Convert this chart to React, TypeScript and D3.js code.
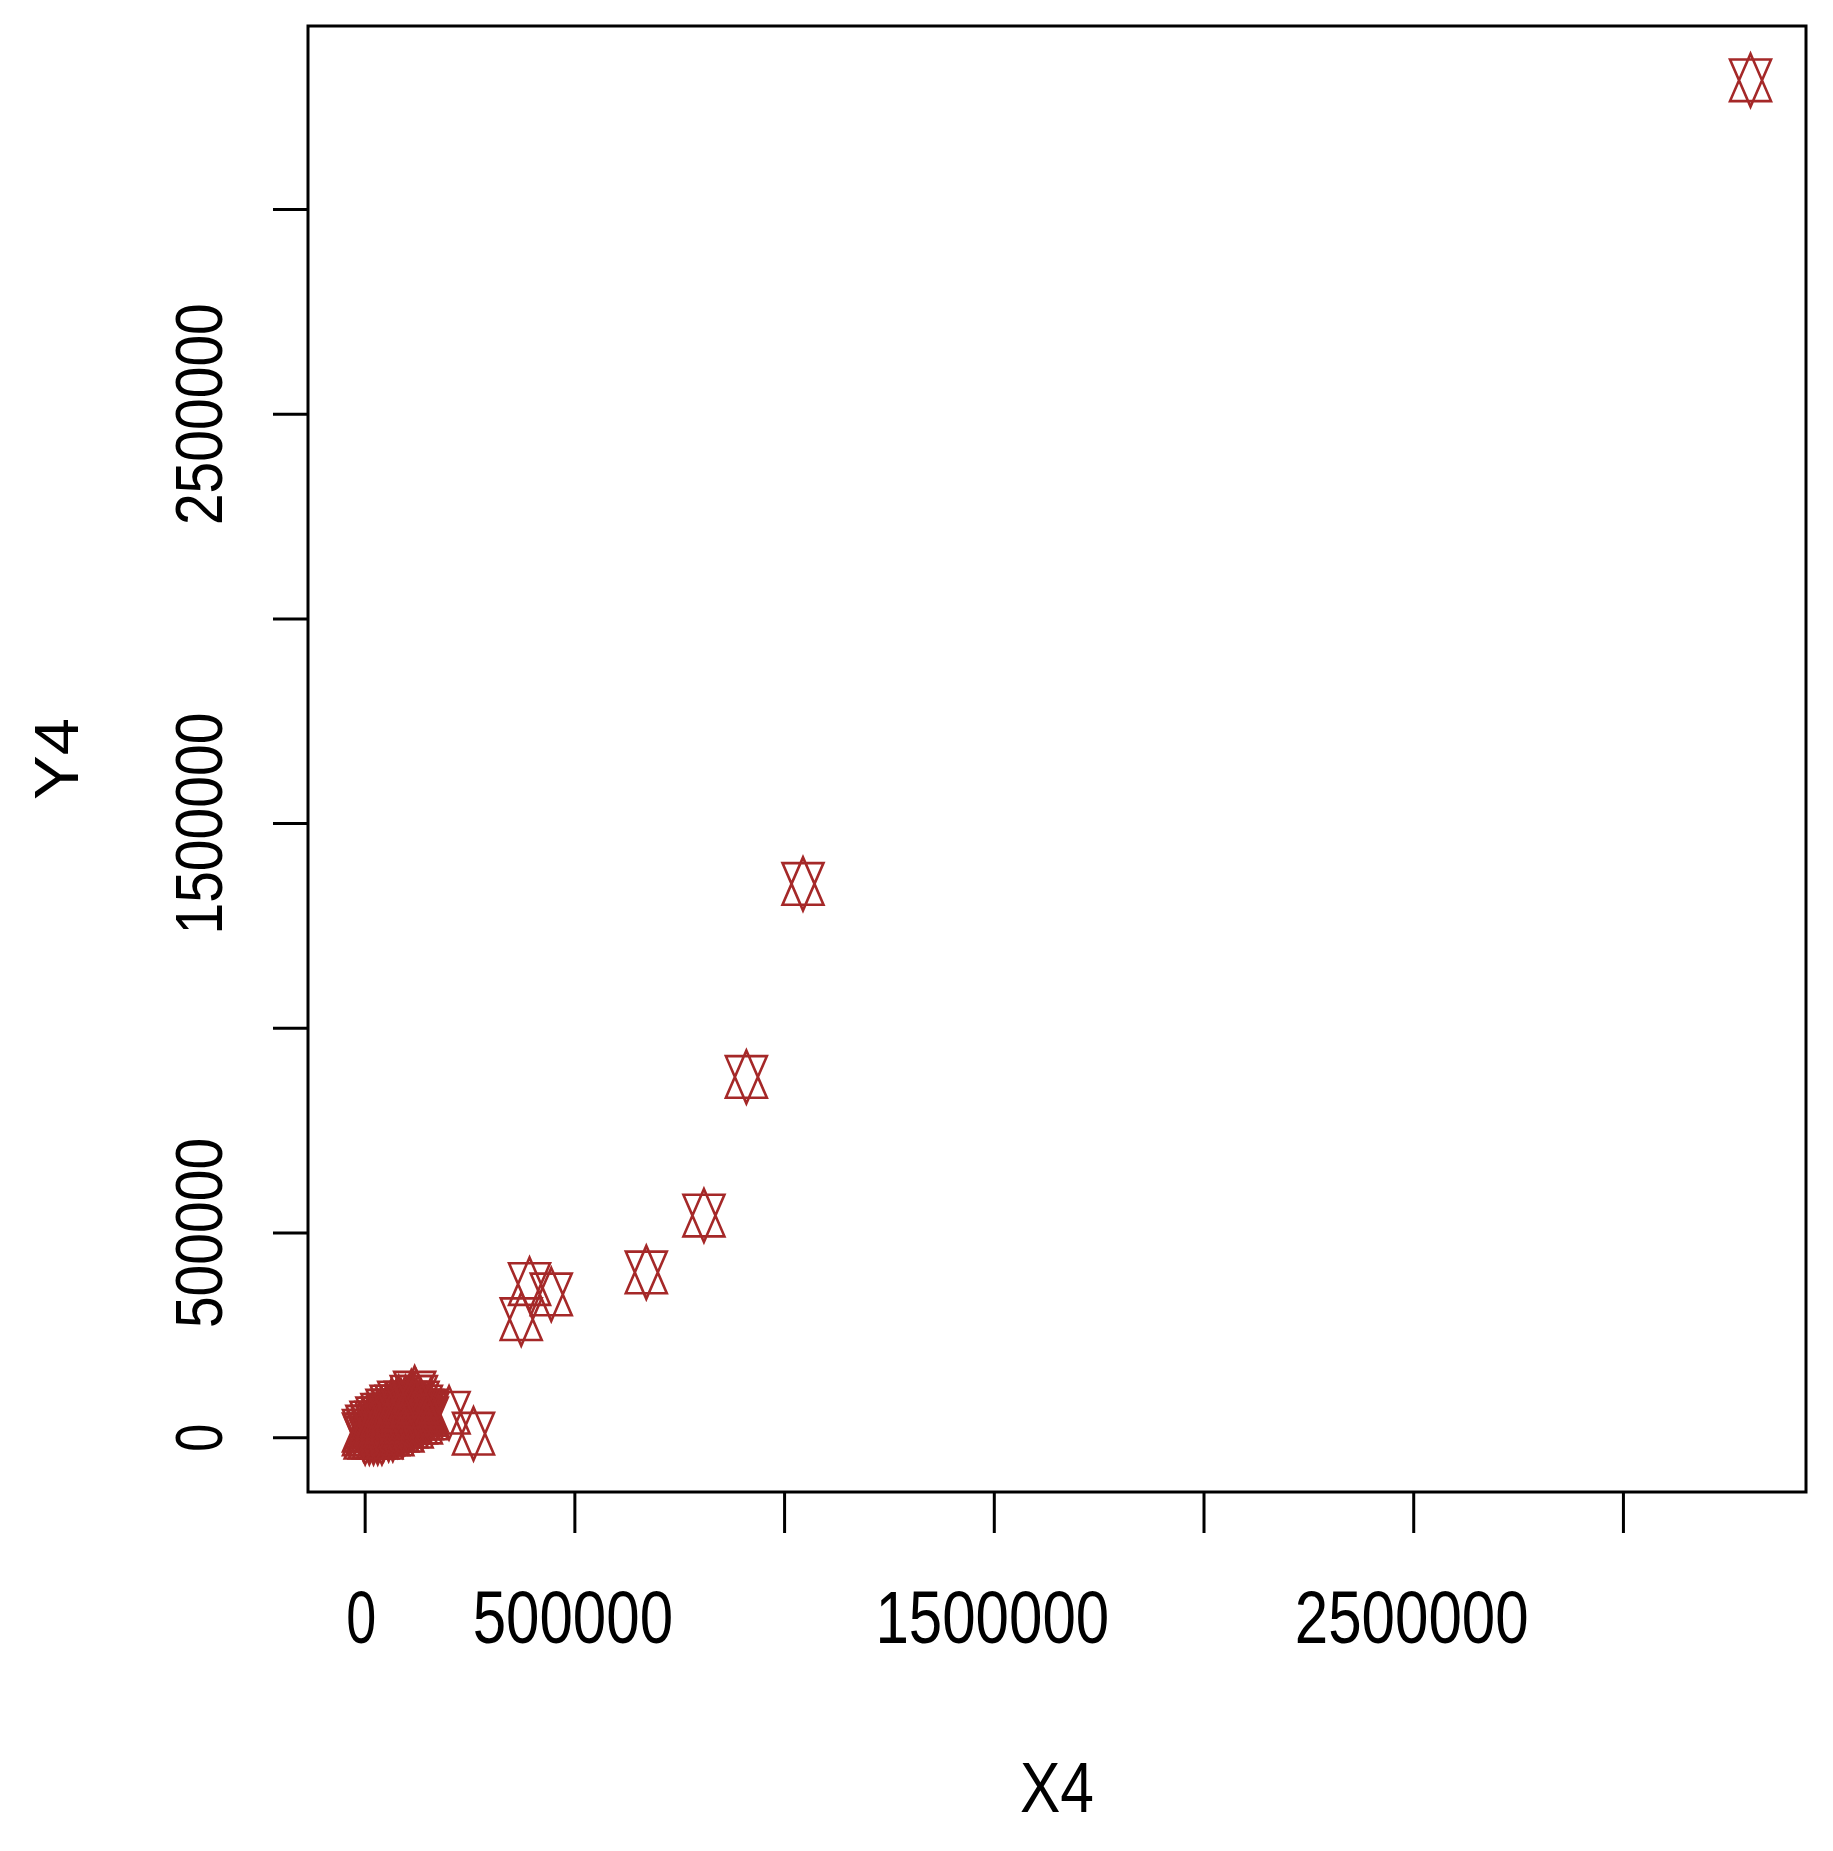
import React from "react";
import * as d3 from "d3";

// Isolated points (X4, Y4)
const outlierX = [3303000, 1043900, 908900, 807700, 670300, 391900, 443700, 372100, 258300, 200000];
const outlierY = [3315500, 1352700, 881100, 542600, 403800, 375200, 350000, 289500, 9800, 61000];

// Dense cluster near the origin, listed row by row (values in thousands)
const clusterXk = [
  0, 10, 20, 30, 40,
  -4, 8, 20, 32, 44, 56, 66,
  -4, 6, 18, 30, 42, 54, 66, 78, 90,
  4, 16, 28, 40, 52, 64, 76, 88, 100, 112,
  14, 26, 38, 50, 62, 74, 86, 98, 110, 122, 134,
  28, 40, 52, 64, 76, 88, 100, 112, 124, 136, 148,
  40, 52, 64, 76, 88, 100, 112, 124, 136, 148,
  52, 64, 76, 88, 100, 112, 124, 136, 148,
  62, 74, 86, 98, 110, 122, 134,
  80, 96, 112, 126,
  110, 122,
  118,
];
const clusterYk = [
  0, 0, 0, 0, 0,
  8, 8, 8, 8, 8, 8, 8,
  17, 17, 17, 17, 17, 17, 17, 17, 17,
  27, 27, 27, 27, 27, 27, 27, 27, 27, 27,
  37, 37, 37, 37, 37, 37, 37, 37, 37, 37, 37,
  47, 47, 47, 47, 47, 47, 47, 47, 47, 47, 47,
  56, 56, 56, 56, 56, 56, 56, 56, 56, 56,
  66, 66, 66, 66, 66, 66, 66, 66, 66,
  76, 76, 76, 76, 76, 76, 76,
  86, 86, 86, 86,
  100, 100,
  110,
];

const xValues = [...outlierX, ...clusterXk.map((v) => v * 1000)];
const yValues = [...outlierY, ...clusterYk.map((v) => v * 1000)];

const tickValues = [0, 500000, 1000000, 1500000, 2000000, 2500000, 3000000];
const labelledTicks = [0, 500000, 1500000, 2500000];
const xTitle = "X4";
const yTitle = "Y4";

const W = 1833;
const H = 1851;
const box = { left: 308, right: 1806, top: 26, bottom: 1492 };
const color = "#A52828";
const font = "'Liberation Sans', Arial, sans-serif";

function padded(vals: number[]): [number, number] {
  const [lo, hi] = d3.extent(vals) as [number, number];
  const r = hi - lo;
  return [lo - 0.04 * r, hi + 0.04 * r];
}

export default function App() {
  const x = d3.scaleLinear().domain(padded(xValues)).range([box.left, box.right]);
  const y = d3.scaleLinear().domain(padded(yValues)).range([box.bottom, box.top]);

  const w = 20.5, b = 20.8, a = 26.5;
  const marker =
    `M0,${-a}L${w},${b}L${-w},${b}Z` + `M0,${a}L${w},${-b}L${-w},${-b}Z`;

  const labelLen = (s: string, per: number, single: number) =>
    s.length === 1 ? single : s.length * per;

  return (
    <svg
      width={W}
      height={H}
      style={{ position: "absolute", left: 0, top: 0, background: "#fff" }}
    >
      <rect x={0} y={0} width={W} height={H} fill="#fff" />
      <g>
        {xValues.map((xv, i) => (
          <path
            key={i}
            d={marker}
            transform={`translate(${x(xv)},${y(yValues[i])})`}
            fill="none"
            stroke={color}
            strokeWidth={2.6}
          />
        ))}
      </g>
      <rect
        x={box.left}
        y={box.top}
        width={box.right - box.left}
        height={box.bottom - box.top}
        fill="none"
        stroke="#000"
        strokeWidth={3}
      />
      <g>
        {tickValues.map((t) => (
          <line
            key={t}
            x1={x(t)}
            x2={x(t)}
            y1={box.bottom}
            y2={box.bottom + 41}
            stroke="#000"
            strokeWidth={3}
          />
        ))}
        {labelledTicks.map((t) => {
          const s = String(t);
          return (
            <text
              key={t}
              x={x(t) - (s.length === 1 ? 4 : 2)}
              y={1643}
              textAnchor="middle"
              fontFamily={font}
              fontSize={74}
              textLength={labelLen(s, 33.4, 30)}
              lengthAdjust="spacingAndGlyphs"
              fill="#000"
            >
              {s}
            </text>
          );
        })}
      </g>
      <g>
        {tickValues.map((t) => (
          <line
            key={t}
            x1={box.left - 35}
            x2={box.left}
            y1={y(t)}
            y2={y(t)}
            stroke="#000"
            strokeWidth={3}
          />
        ))}
        {labelledTicks.map((t) => {
          const s = String(t);
          return (
            <text
              key={t}
              transform={`translate(222,${y(t)}) rotate(-90)`}
              textAnchor="middle"
              fontFamily={font}
              fontSize={66}
              textLength={labelLen(s, 31.7, 28)}
              lengthAdjust="spacingAndGlyphs"
              fill="#000"
            >
              {s}
            </text>
          );
        })}
      </g>
      <text
        x={(box.left + box.right) / 2}
        y={1812}
        textAnchor="middle"
        fontFamily={font}
        fontSize={70}
        textLength={74}
        lengthAdjust="spacingAndGlyphs"
        fill="#000"
      >
        {xTitle}
      </text>
      <text
        transform={`translate(78,${(box.top + box.bottom) / 2}) rotate(-90)`}
        textAnchor="middle"
        fontFamily={font}
        fontSize={63}
        textLength={82}
        lengthAdjust="spacingAndGlyphs"
        fill="#000"
      >
        {yTitle}
      </text>
    </svg>
  );
}
